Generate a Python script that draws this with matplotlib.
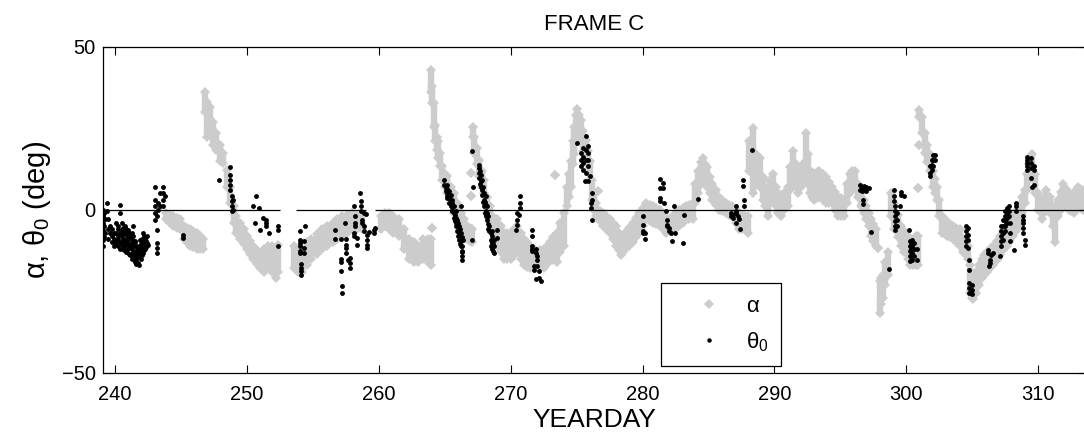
import matplotlib
matplotlib.use('Agg')
import matplotlib.pyplot as plt
from matplotlib.lines import Line2D
import numpy as np

plt.rcParams['font.family'] = ['Liberation Sans', 'DejaVu Sans']
plt.rcParams['mathtext.fontset'] = 'custom'
plt.rcParams['mathtext.rm'] = 'Liberation Sans'
plt.rcParams['mathtext.it'] = 'Liberation Sans:italic'

GRAY = '#cccccc'

# -------- alpha (gray band): (yearday, low, high) -------- #
alpha_seg1 = [
    (243.9, -3, -1), (244.2, -4, -1.5), (244.4, -5, -2), (244.7, -5.5, -2.5),
    (244.9, -6, -3), (245.2, -9, -5), (245.45, -10, -5.5), (245.7, -11, -6),
    (245.95, -11.5, -6.5), (246.2, -12, -7), (246.45, -12, -8), (246.7, -12, -9),
]
alpha_seg2 = [
    (246.82, 30, 36), (247.0, 22.4, 33), (247.2, 25.5, 31.6), (247.45, 20, 27),
    (247.7, 18.4, 23.5), (247.95, 15, 20), (248.2, 14.3, 17.3), (248.5, 7.1, 12.2),
    (248.7, 2, 7), (249.0, -4, 1), (249.2, -7, -2), (249.5, -9, -4),
    (249.75, -10.5, -6), (250.0, -12, -8), (250.25, -13.5, -9.5), (250.5, -15, -11),
    (250.75, -16.5, -12.5), (251.0, -18, -14), (251.3, -19, -12), (251.6, -18, -11),
    (251.9, -19, -11), (252.2, -21, -12), (252.4, -19, -10.7),
]
alpha_seg3 = [
    (253.55, -18, -11), (253.85, -19, -12), (254.2, -19, -12), (254.55, -17, -10),
    (254.9, -15, -9), (255.3, -13.5, -7.5), (255.7, -12, -6), (256.1, -11, -5),
    (256.5, -10, -4), (256.85, -9, -3), (257.2, -8, -2), (257.6, -7, -1.5),
    (258.0, -6, -1), (258.35, -6, -1.5), (258.7, -6, -2),
]
alpha_seg4 = [
    (260.2, -6, -2), (260.5, -5, -1), (260.75, -6, -1), (261.1, -7, -2),
    (261.5, -8, -3), (261.9, -12, -6), (262.3, -15, -9), (262.65, -16, -10),
    (263.0, -16, -11), (263.35, -15, -9), (263.7, -16, -9), (263.98, -17, -9),
    (264.0, 36, 42.9), (264.06, 32.6, 38), (264.06, -5.6, -5.6), (264.19, 25.5, 32.6),
    (264.3, 21, 26), (264.39, 18.4, 22.4), (264.5, 16, 21), (264.64, 13.3, 17.3),
    (264.8, 9.2, 13.3), (265.0, 7, 11), (265.2, 5.1, 10.2), (265.45, 2, 7),
    (265.7, -1, 5.1), (265.95, -3.5, 2), (266.2, -6, -1), (266.45, -7.5, -3),
    (266.7, -9, -5), (266.9, -9.5, -5.5), (266.97, 11.2, 11.2), (266.97, 4.1, 4.1),
    (267.1, -10, -6),
]
alpha_seg5 = [
    (267.12, 22.4, 25.5), (267.25, 17.3, 22.4), (267.45, 14, 19), (267.6, 10.2, 15.3),
    (267.8, 7, 12), (268.0, 5.1, 9.2), (268.2, -1, 4), (268.4, -3, 1),
    (268.6, -6, -2), (268.8, -9, -3), (269.0, -11, -3), (269.25, -13, -5),
    (269.5, -15, -7), (269.75, -15, -7), (270.0, -15, -7), (270.25, -14, -6),
    (270.5, -13, -5), (270.75, -15, -7), (271.0, -17, -9), (271.25, -17.5, -10),
    (271.5, -18, -11), (271.75, -18, -12), (272.0, -18, -13), (272.25, -18, -12.5),
    (272.5, -18, -12), (272.75, -16.5, -11), (273.0, -15, -10), (273.25, -15.5, -8.5),
    (273.4, 10.7, 10.7), (273.5, -16, -7), (273.75, -13, -4), (274.05, -11, -1),
    (274.3, 1, 7), (274.45, 4, 11), (274.55, 7, 15), (274.7, 14, 21),
    (274.8, 17, 25.5), (274.95, 22, 29), (275.05, 25.5, 31), (275.2, 23, 29),
    (275.3, 21.4, 27.5), (275.5, 18, 24), (275.7, 15.3, 21.4), (275.85, 12, 18),
]
alpha_seg6 = [
    (276.0, 9, 15), (276.2, 3, 9), (276.35, 0, 5), (276.5, -2, 2),
    (276.6, 5.6, 5.6), (276.75, -3.5, -0.5), (277.0, -5, -1), (277.25, -6, -2),
    (277.5, -7, -3), (277.75, -9, -4), (278.0, -11, -5), (278.2, -12.5, -7),
    (278.4, -14, -9), (278.55, -13, -8), (278.7, -12, -7), (279.0, -11, -5.5),
    (279.25, -10, -4), (279.5, -8.5, -2.5), (279.75, -7, -1), (280.0, -5, 0.5),
    (280.3, -3, 2), (280.55, -3.5, 1.5), (280.8, -4, 1), (281.05, -4.5, 0.5),
    (281.3, -5, 0), (281.55, -6, -1.5), (281.8, -7, -3), (282.05, -6.5, -2.5),
    (282.3, -6, -2), (282.55, -5.5, -1), (282.8, -5, 0), (283.05, -4, 0.5),
    (283.3, -3, 1), (283.55, -3, 1.5), (283.8, -3, 2), (284.0, 2, 8),
    (284.2, 5, 12), (284.4, 8, 14.5), (284.55, 10, 15.8), (284.75, 8, 14),
    (284.9, 7, 13), (285.1, 5, 10), (285.3, 3, 8), (285.55, 1.5, 6),
    (285.8, 0, 4), (286.05, -0.5, 3), (286.3, -1, 2), (286.55, -1.5, 1.5),
    (286.8, -2, 1), (287.05, -4, 0), (287.3, -6, -1), (287.55, -6, -1.5),
    (287.8, -6, -2), (288.0, -7, -2),
]
alpha_seg7 = [
    (288.1, 12, 21), (288.37, 5, 25), (288.6, 8, 17), (288.9, 7, 16),
    (289.1, 3, 10), (289.25, 1, 7), (289.5, -2, 4), (289.7, 2, 9),
    (289.9, 5, 11), (290.1, 1, 7), (290.3, -1, 5), (290.5, -2, 3),
    (290.75, 0, 5), (291.0, 1, 7), (291.2, 6, 13), (291.4, 10, 18),
    (291.6, 7, 14), (291.8, 5, 12), (292.0, 7, 13), (292.2, 9, 14),
    (292.4, 15, 23.5), (292.55, 8, 17), (292.7, 5, 12), (292.85, 4, 11.5),
    (293.0, 3, 11), (293.2, 3.5, 11.5), (293.4, 4, 12), (293.65, 3, 11),
    (293.9, 2, 10), (294.15, 2, 8.5), (294.4, 2, 7), (294.6, 0, 5.5),
    (294.8, -2, 4), (295.05, -2, 3.5), (295.3, -2, 3), (295.5, 2, 8),
    (295.7, 5, 11), (295.9, 6, 12), (296.1, 7, 12), (296.35, 4, 8),
    (296.6, 1, 5), (296.8, -1, 3), (296.96, -3, 1), (297.15, -5, -1),
    (297.3, -8, -3), (297.5, -9.5, -4.5), (297.7, -11, -6), (297.85, -11.7, -11.7),
    (297.97, -31.7, -22), (298.1, -29, -21), (298.2, -27, -20), (298.4, -23, -16),
    (298.6, -20, -13), (298.86, -2, 5), (299.1, -6, 2), (299.35, -8.5, -1.5),
    (299.6, -11, -5), (299.85, -13, -6.5), (300.1, -15, -8), (300.3, -17, -9),
    (300.5, -17, -11), (300.7, -17, -8), (300.9, -17, -8),
]
alpha_seg8 = [
    (300.92, 6.6, 6.6), (300.93, 19.9, 19.9), (300.98, 28.5, 30.6), (301.15, 23.5, 28.5),
    (301.4, 17.3, 23.5), (301.6, 14.5, 20), (301.8, 12, 17), (302.0, 7, 12),
    (302.15, 5, 9.5), (302.3, 3, 7), (302.5, -2, 3), (302.7, -7, -2),
    (302.9, -7.5, -3), (303.05, -8, -4), (303.3, -8.5, -4.5), (303.55, -9, -5),
    (303.8, -10, -5.5), (304.06, -11, -6), (304.3, -13, -9), (304.5, -14, -10),
    (304.7, -15, -11), (304.8, -25.5, -17), (304.95, -27, -22), (305.07, -27.5, -24.5),
    (305.2, -26, -21), (305.3, -25.5, -19), (305.5, -23, -17), (305.7, -21, -15),
    (305.9, -20, -14), (306.1, -19, -13), (306.35, -18, -12), (306.6, -17, -11),
    (306.85, -15.5, -9.5), (307.1, -14, -8), (307.35, -12.5, -6.5), (307.6, -11, -5),
    (307.85, -9.5, -3.5), (308.1, -8, -2), (308.35, -6.5, -0.5), (308.6, -5, 1),
    (308.8, -1, 4), (309.0, 2, 6), (309.15, 6, 11), (309.3, 9, 14),
    (309.5, 12, 17), (309.75, 5, 11), (310.0, 0, 5), (310.25, -3, 2),
    (310.45, -1, 4), (310.6, 1, 6), (310.9, -1, 4), (311.1, -5, 1),
    (311.3, -10, -3), (311.5, -2, 3), (311.7, 0, 5.5), (311.9, 2, 8),
    (312.1, 1, 6.5), (312.3, 0, 5), (312.5, -0.5, 4.5), (312.7, -1, 4),
    (312.9, 0, 6), (313.03, 1, 7), (313.2, 0.5, 6.5), (313.4, 0, 6),
]

# -------- theta_0 (black dots): (yearday, [values]) -------- #
theta_w1 = [
    (239.1, [0, -2, -4.1, -6.1, -9.2, -11.2]), (239.18, [-1, -5, -8.5]), (239.25, [-3, -7]),
    (239.4, [2, -0.5]), (239.5, [-3, -6, -9]), (239.6, [-5.1, -7.1]),
    (239.75, [-6, -8, -10]), (239.9, [-7, -9, -11]), (240.0, [-9.2]),
    (240.1, [-4.1, -7.1, -10.2]), (240.2, [-5, -8, -11]), (240.25, [-6, -9]),
    (240.35, [-7, -10, -12]), (240.4, [1.5, -1]), (240.5, [-4, -6.1, -8.2, -10.7]),
    (240.6, [-5.5, -9, -12]), (240.7, [-7, -10, -12.5]), (240.76, [-5.1, -7.1, -9.2, -11.2]),
    (240.85, [-6, -9.5, -13]), (240.9, [-8, -10.5]), (241.0, [-6.1, -9.2, -12.2]),
    (241.08, [-7, -10.5, -13.5]), (241.15, [-8.5, -11.5, -14]), (241.26, [-7.1, -10.2, -13.3]),
    (241.33, [-9, -12, -15]), (241.4, [-5.1, -8.2, -11.2, -14.3]), (241.5, [-9.5, -13, -15.5]),
    (241.55, [-10, -14, -16]), (241.6, [-11.2, -15.3, -16.8]), (241.7, [-12, -14.5]),
    (241.77, [-13.3, -16.3]), (241.83, [-11, -14, -17]), (241.9, [-9.2, -12.2, -14.3]),
    (241.95, [-10.5, -13]), (242.0, [-11, -15]), (242.08, [-9, -12, -14]),
    (242.15, [-7.1, -10.2, -13.3]), (242.22, [-8, -11, -12.5]), (242.3, [-9, -12]),
    (242.35, [-9.5, -11.5]), (242.4, [-8.2, -10.2]), (242.5, [-10.7]),
    (243.03, [7.1, 3.1, 1, -1, -3.1]), (243.16, [-2, -6.1, -10.2, -11.7, -13.3]),
    (243.28, [2, 0]), (243.41, [5.1, 1]), (243.66, [7.1, 5.1, 3.1, 1]), (243.79, [4.1]),
]
theta_w2 = [
    (245.18, [-7.7, -8.7]), (247.9, [9.2]), (248.7, [13.1, 10.7, 9.2, 7.7, 6.1]),
    (248.84, [4.1, 2.6, 1, -0.5]), (248.97, [3, 0]), (250.5, [1]), (250.6, [-4.1]),
    (250.7, [4.3]), (250.94, [0.5]), (251.0, [-6.1]), (251.24, [-2.6]),
    (251.45, [-3.1, -4.1, -5.1]), (251.66, [-7.1]), (252.4, [-5.1, -6.1, -11.2]),
]
theta_w3 = [
    (254.06, [-6.6, -9.2, -10.2, -11.2, -12.8, -13.3]), (254.13, [-16.8, -17.9, -18.9, -19.9]),
    (254.31, [-9.7, -11.7, -13.3]), (254.38, [-4.9]), (256.71, [-6.1, -9]),
    (257.16, [-9, -15.1, -16.1, -18.9]), (257.22, [-23.5, -25.5]), (257.47, [-4.1]),
    (257.52, [-9, -10.7, -11.7, -13.3]), (257.67, [-15.3]), (257.85, [-14.8, -16.3, -17.9]),
    (258.1, [1, -7.1, -8.2]), (258.23, [-2, -4.1, -5.1]), (258.35, [-8.7, -10.7]),
    (258.55, [5.1]), (258.66, [2.6, 1, -0.5]), (258.73, [-3.1, -4.1]),
    (258.88, [-1, -5.1, -6.6]), (259.06, [-1.2]), (259.11, [-7.7, -9.2, -10.7, -11.7]),
    (259.24, [-6.9]), (259.62, [-6.1, -7.1]), (259.74, [-5.6]),
]
theta_w4 = [
    (264.95, [9.2, 7.7]), (265.07, [6.6, 5.6]), (265.14, [6.5, 3.5]), (265.2, [7.7, 5.1, 4.1]),
    (265.33, [5.6, 3.6, 2]), (265.45, [4.6, 2.6, 1]), (265.52, [2, 0]),
    (265.58, [3.1, 1, -0.5]), (265.7, [1, -1, -2.6]), (265.77, [-1.5, -3.5]),
    (265.83, [-0.5, -2.6, -4.1, -5.1]), (265.96, [-3.1, -5.1, -6.6]), (266.0, [-4, -8]),
    (266.08, [-5.1, -7.1, -9.2]), (266.15, [-6, -10.5]), (266.21, [-7.1, -9.7, -11.2]),
    (266.26, [1]), (266.28, [-8.5, -13]), (266.34, [-11.2, -12.8, -14.3, -15.3]),
    (266.41, [-9.2]), (267.04, [-9.2]), (267.1, [17.9]), (267.17, [7.1]),
    (267.6, [13.8, 12.8, 11.2, 9.7]), (267.66, [12, 8]), (267.73, [10.7, 8.7, 7.1]),
    (267.85, [9.2, 6.1, 4.6]), (267.92, [7, 2.5]), (267.98, [5.1, 3.1, 1]),
    (268.05, [2.5, -1]), (268.1, [4.1, 1.5, -0.5, -2]), (268.23, [1, -1, -3.1]),
    (268.3, [-2, -4.5, -6]), (268.36, [-5.1, -6.6]), (268.48, [-7.1, -9.2, -11.2]),
    (268.55, [-6.5, -10]), (268.61, [-8.2, -10.2, -12.2]), (268.68, [-10.5, -12.8]),
    (268.74, [-9.2, -11.2, -13.3]), (268.94, [-6.1, -8.7]), (270.38, [-6.1]),
    (270.5, [-1, -3.1, -4.6]), (270.63, [-1.5]), (270.71, [4.3, 2, 0.5]),
    (271.64, [-6.3, -8.2, -11.2, -12.2, -12.8]), (271.77, [-17.3, -18.4]),
    (271.9, [-12.2, -13.3, -21.2]), (272.02, [-14.3, -15.3, -17.3]),
    (272.15, [-18.9, -20.9]), (272.28, [-21.9]),
]
theta_w5 = [
    (275.0, [20.6]), (275.3, [17.3, 15.3, 13.3]), (275.5, [18.9, 16.3, 14.3, 12.2]),
    (275.66, [8.7]), (275.69, [18.4, 15.3, 11.2]), (275.71, [22.7]),
    (275.84, [19.4, 17.3, 15.3, 13.3, 8.7]), (276.01, [10.4]), (276.09, [2, 0.5]),
    (276.16, [5.1]), (276.2, [3.1, -3.3]), (280.01, [-4.6, -6.6, -7.1]), (280.06, [-2]),
    (280.21, [-7.1, -9]), (281.32, [9.4, 6.6, 3.6, 2.6]), (281.52, [8.2, 6.6]),
    (281.65, [2]), (281.78, [-0.5]), (281.83, [-3.1, -4.6, -5.1]), (281.98, [-5.6, -6.6]),
    (282.15, [-7.1]), (282.23, [-9.5]), (282.41, [1.2]), (282.48, [-7.1]),
    (283.04, [-10.3]), (283.11, [-1.7]), (284.18, [3.3]), (286.7, [-1, -2]),
    (286.83, [-1.5, -2.6]), (287.08, [1, -0.5, -1, -4.1]), (287.21, [-2]),
    (287.28, [-2.9]), (287.41, [-5.9]), (287.59, [9.2, 7.3]), (287.71, [3.1, 1]),
    (288.29, [18.4]),
]
theta_w6 = [
    (296.46, [7.7, 6.1]), (296.63, [7.1, 5.6]), (296.71, [3.1, 1.8]), (296.78, [7.3, 6.1]),
    (296.96, [7.1, 5.6]), (297.14, [6.6]), (297.34, [-6.9]), (298.65, [-18.2]),
    (299.06, [5.9, 4.1, 2.6]), (299.11, [1, -0.5, -2, -3.6, -5.1, -6.3]),
    (299.31, [-1, -3.1, -5.1]), (299.49, [1]), (299.61, [5.3, 4.6]), (299.82, [4.3]),
    (300.17, [-6.3]), (300.25, [-9.7, -11.2, -12.8, -14.3, -15.8]),
    (300.37, [-10.2, -12.2, -14.3]), (300.4, [-9.2, -11.2, -13.3, -15.3]),
    (300.57, [-10.2, -12.2, -14.3]), (300.78, [-12.2, -15.3]),
    (301.79, [13.3, 11.2, 10.2]), (301.91, [15.3, 13.8, 12.2]),
    (302.04, [16.8, 15.3, 13.3]), (302.17, [16.8, 15.3]),
    (304.52, [-5.1, -6.6, -8.2, -9.7, -11.2]), (304.7, [-5.6, -7.7, -9.2, -11.7]),
    (304.77, [-15.3, -18.4, -22.4, -24, -25.5]), (304.95, [-23, -24.5, -26]),
    (306.21, [-12.4, -13.3]), (306.29, [-17.3]), (306.34, [-15.3, -16.3]),
    (306.41, [-13.8]), (306.59, [-13.3]), (307.09, [-14.3]),
    (307.14, [-11.2, -9.7, -8.2, -6.6, -5.1]), (307.3, [-3.1, -5.1, -7.1, -9.2]),
    (307.47, [-0.5, -2, -3.6, -5.1, -6.6]), (307.6, [0.5, -1, -2.6, -4.1]),
    (307.8, [1, -0.5, -2]), (307.85, [-4.1, -7.1, -9.7]), (308.15, [-12.4]),
    (308.31, [2, 1, -0.5]), (308.86, [-2, -3.1, -4.1, -5.6, -7.1]), (308.99, [-9.2, -10.7]),
    (309.11, [16.3, 15.3, 14.3, 13.3, 12.2]), (309.42, [15.8, 14.3, 12.8, 9.7]),
    (309.49, [7.1]), (309.67, [13.3, 12.2, 7.7]),
]

# zero reference line, broken where the record has gaps
zero_start = [239.07, 253.7, 259.7]
zero_end = [252.5, 259.0, 313.7]

x_ticks = [240, 250, 260, 270, 280, 290, 300, 310]
y_ticks = [-50, 0, 50]


def unpack_alpha(*segments):
    rows = [r for seg in segments for r in seg]
    day, lo, hi = zip(*rows)
    return np.array(day), np.array(lo), np.array(hi)


def unpack_theta(*groups):
    day, val = [], []
    for grp in groups:
        for d, vals in grp:
            day += [d] * len(vals)
            val += vals
    return np.array(day), np.array(val)


def main():
    a_day, a_lo, a_hi = unpack_alpha(alpha_seg1, alpha_seg2, alpha_seg3, alpha_seg4,
                                     alpha_seg5, alpha_seg6, alpha_seg7, alpha_seg8)
    t_day, t_val = unpack_theta(theta_w1, theta_w2, theta_w3, theta_w4, theta_w5, theta_w6)

    fig = plt.figure(figsize=(10.84, 4.34), dpi=100)
    ax = fig.add_axes([0.0947, 0.1412, 0.9075, 0.7512])

    ax.vlines(a_day, a_lo, a_hi, colors=GRAY, linewidth=4.6, zorder=1)
    ax.plot(a_day, a_lo, 'D', ms=4.8, color=GRAY, mew=0, ls='none', zorder=1)
    ax.plot(a_day, a_hi, 'D', ms=4.8, color=GRAY, mew=0, ls='none', zorder=1)
    ax.plot(t_day, t_val, 'o', ms=3.5, color='k', mew=0, ls='none', zorder=2)
    ax.hlines([0] * len(zero_start), zero_start, zero_end, colors='k',
              linewidth=0.9, zorder=3)

    ax.set_xlim(239.07, 313.65)
    ax.set_ylim(-50, 50)
    ax.set_xticks(x_ticks)
    ax.set_yticks(y_ticks)
    ax.tick_params(direction='in', length=6, width=0.8, top=True, right=True,
                   labelsize=14.5)
    ax.tick_params(axis='x', pad=9)
    ax.tick_params(axis='y', pad=5)
    for s in ax.spines.values():
        s.set_linewidth(0.9)

    ax.set_title('FRAME C', fontsize=16, pad=12)
    ax.set_xlabel('YEARDAY', fontsize=19, labelpad=3)
    ax.set_ylabel(r'α, θ$_{\mathrm{0}}$ (deg)', fontsize=21, labelpad=6)

    handles = [Line2D([], [], marker='D', ms=5, color=GRAY, mew=0, ls='none'),
               Line2D([], [], marker='o', ms=3.2, color='k', mew=0, ls='none')]
    leg = ax.legend(handles, ['α', r'θ$_{\mathrm{0}}$'], loc='upper left',
                    bbox_to_anchor=(0.568, 0.274), borderaxespad=0, fontsize=16,
                    fancybox=False, edgecolor='k', framealpha=1, borderpad=0.55,
                    handlelength=3.2, handletextpad=0.05, labelspacing=0.6)
    leg.get_frame().set_linewidth(0.9)

    fig.savefig('out.png', dpi=100)


if __name__ == '__main__':
    main()
